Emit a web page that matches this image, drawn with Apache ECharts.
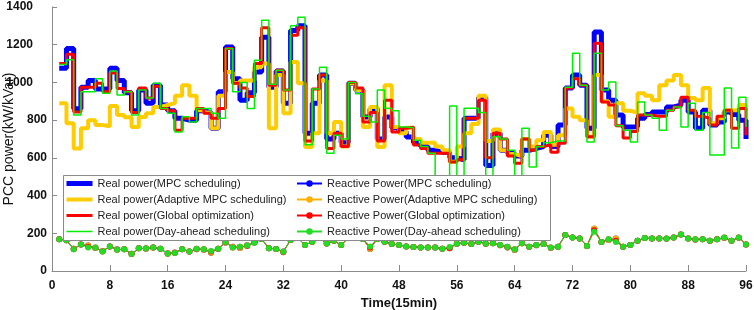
<!DOCTYPE html>
<html>
<head>
<meta charset="utf-8">
<script src="https://cdn.jsdelivr.net/npm/echarts@6/dist/echarts.min.js"></script>
<style>
    html, body { margin: 0; padding: 0; background: #fff; }
    #chart { width: 754px; height: 310px; }
</style>
</head>
<body>
<div id="chart"></div>
<script>
    // real power, kW, time steps 1..96
    var realMpc = [1075, 1180, 860, 975, 1010, 965, 965, 1075, 1010, 945, 850, 960, 890, 985, 880, 850,
        810, 800, 800, 850, 840, 757, 950, 1188, 1020, 906, 945, 1055, 1240, 975, 1060, 890,
        1275, 1300, 730, 890, 1040, 700, 730, 680, 995, 960, 817, 860, 700, 817, 760, 740,
        710, 680, 660, 640, 630, 630, 600, 590, 810, 810, 920, 560, 730, 640, 625, 610,
        640, 650, 660, 720, 660, 774, 970, 1040, 985, 757, 1267, 960, 906, 827, 763, 765,
        810, 830, 843, 843, 870, 880, 906, 843, 757, 853, 774, 790, 843, 830, 800, 700];
    var realAdaptive = [890, 784, 650, 757, 800, 774, 768, 875, 827, 815, 763, 817, 837, 870, 880, 890,
        930, 985, 930, 853, 840, 757, 930, 1055, 995, 1010, 1010, 1081, 1100, 757, 1040, 837,
        1108, 995, 657, 730, 1010, 730, 790, 660, 995, 960, 763, 870, 657, 985, 763, 730,
        760, 700, 680, 680, 660, 640, 580, 660, 730, 780, 930, 690, 750, 640, 620, 610,
        700, 660, 694, 737, 670, 720, 862, 818, 800, 712, 1040, 900, 818, 890, 850, 840,
        943, 930, 906, 985, 1010, 1040, 985, 917, 906, 970, 784, 810, 853, 853, 880, 853];
    var realGlobal = [1100, 1150, 843, 975, 975, 995, 950, 1050, 968, 950, 840, 970, 917, 980, 862, 850,
        747, 810, 810, 862, 837, 810, 862, 1180, 995, 970, 925, 1100, 1290, 985, 1065, 960,
        1250, 1290, 690, 965, 1040, 650, 730, 660, 1000, 970, 790, 840, 690, 905, 737, 757,
        763, 668, 650, 625, 625, 625, 578, 590, 810, 810, 906, 600, 730, 700, 610, 572,
        700, 640, 660, 670, 630, 678, 970, 1020, 985, 712, 1208, 896, 880, 770, 705, 740,
        827, 827, 820, 820, 853, 870, 922, 853, 820, 810, 774, 820, 853, 757, 862, 720];
    var realDayAhead = [1095, 1120, 827, 950, 950, 1020, 943, 1060, 933, 950, 827, 960, 917, 995, 862, 837,
        737, 818, 790, 862, 862, 837, 810, 1180, 950, 1000, 862, 1118, 1330, 990, 1065, 960,
        1300, 1346, 670, 965, 1080, 625, 720, 700, 1000, 940, 820, 790, 960, 863, 850, 763,
        760, 694, 660, 625, 490, 490, 875, 490, 863, 863, 840, 490, 712, 700, 640, 490,
        757, 551, 660, 680, 690, 690, 975, 1155, 985, 684, 1155, 960, 1002, 770, 747, 684,
        896, 827, 810, 747, 853, 870, 763, 890, 747, 840, 615, 615, 970, 652, 922, 763];

    // reactive power, kVar
    var reactMpc = [168, 163, 118, 141, 135, 122, 106, 130, 115, 115, 92, 120, 118, 124, 118, 94,
        98, 115, 103, 115, 113, 97, 118, 150, 128, 122, 136, 150, 170, 120, 117, 104,
        165, 175, 138, 155, 175, 146, 160, 138, 175, 175, 170, 117, 170, 155, 143, 138,
        130, 127, 125, 125, 125, 118, 120, 145, 150, 143, 155, 145, 147, 136, 124, 112,
        147, 129, 136, 143, 122, 129, 191, 178, 173, 133, 224, 154, 165, 172, 129, 138,
        161, 175, 173, 173, 171, 178, 194, 173, 166, 168, 161, 168, 175, 161, 176, 141];
    var reactAdaptive = [168, 163, 118, 141, 135, 122, 106, 130, 115, 115, 92, 120, 118, 124, 118, 94,
        98, 115, 103, 115, 113, 97, 118, 150, 128, 122, 136, 150, 170, 120, 117, 104,
        165, 175, 138, 155, 175, 146, 160, 138, 175, 175, 170, 117, 170, 155, 143, 138,
        130, 127, 125, 125, 125, 118, 120, 145, 150, 143, 155, 145, 147, 136, 124, 112,
        147, 129, 136, 143, 122, 129, 191, 178, 173, 133, 226, 154, 165, 173, 129, 138,
        161, 175, 173, 173, 171, 178, 194, 173, 166, 168, 161, 168, 175, 161, 176, 141];
    var reactGlobal = [168, 163, 115, 141, 128, 125, 104, 130, 113, 115, 90, 120, 120, 124, 118, 92,
        96, 115, 103, 118, 115, 104, 118, 154, 125, 128, 133, 152, 170, 120, 117, 100,
        165, 175, 138, 155, 175, 146, 160, 138, 175, 175, 170, 125, 170, 155, 143, 138,
        130, 127, 125, 125, 125, 118, 122, 145, 150, 143, 155, 145, 147, 138, 129, 115,
        147, 129, 138, 143, 124, 129, 191, 178, 173, 133, 216, 154, 168, 160, 129, 138,
        161, 175, 173, 173, 173, 178, 194, 173, 168, 168, 161, 168, 178, 161, 178, 141];
    var reactDayAhead = [168, 163, 115, 141, 125, 125, 104, 130, 113, 115, 90, 120, 120, 124, 118, 92,
        96, 115, 103, 118, 115, 106, 118, 154, 125, 128, 135, 150, 170, 120, 117, 102,
        165, 175, 138, 155, 175, 146, 160, 138, 175, 175, 170, 130, 170, 155, 143, 138,
        130, 127, 125, 125, 125, 118, 127, 145, 150, 143, 155, 145, 147, 138, 129, 115,
        147, 129, 138, 143, 124, 129, 191, 178, 173, 133, 208, 154, 168, 154, 129, 138,
        161, 175, 173, 173, 173, 178, 194, 173, 168, 168, 161, 168, 178, 161, 178, 141];

    var realNames = ['Real power(MPC scheduling)', 'Real power(Adaptive MPC scheduling)',
        'Real power(Global optimization)', 'Real power(Day-ahead scheduling)'];
    var reactNames = ['Reactive Power(MPC scheduling)', 'Reactive Power(Adaptive MPC scheduling)',
        'Reactive Power(Global optimization)', 'Reactive Power(Day-ahead scheduling)'];
    var colors = ['#0000ff', '#ffcc00', '#ff0000', '#00ee00'];
    var realWidths = [5, 4, 3, 1.5];
    var xTicks = [0, 8, 16, 24, 32, 40, 48, 56, 64, 72, 80, 88, 96];
    var yTicks = [0, 200, 400, 600, 800, 1000, 1200, 1400];

    var font = 'Liberation Sans';

    function pairs(arr) {
        return arr.map(function (v, i) { return [i + 1, v]; });
    }

    function realSeries(name, data, color, width) {
        return {
            name: name,
            type: 'line',
            step: 'end',
            symbol: 'none',
            data: pairs(data),
            lineStyle: { color: color, width: width },
            itemStyle: { color: color },
            emphasis: { disabled: true },
            animation: false
        };
    }

    function reactSeries(name, data, color) {
        return {
            name: name,
            type: 'line',
            symbol: 'circle',
            symbolSize: 6,
            data: pairs(data),
            lineStyle: { color: color, width: 1 },
            itemStyle: { color: color },
            emphasis: { disabled: true },
            animation: false
        };
    }

    var legendText = { fontSize: 11, fontFamily: font, color: '#222' };

    var option = {
        backgroundColor: '#fff',
        animation: false,
        grid: { left: 52, right: 8, top: 7, bottom: 39, containLabel: false, outerBoundsMode: 'none' },
        graphic: {
            elements: [{
                type: 'rect',
                left: 63,
                top: 175,
                z: 5,
                shape: { width: 487, height: 65 },
                style: { fill: '#fff', stroke: '#8a8a8a', lineWidth: 1 }
            }]
        },
        legend: [{
            data: realNames.map(function (n, i) {
                return { name: n, lineStyle: { width: realWidths[i] } };
            }),
            orient: 'vertical',
            left: 64,
            top: 178,
            itemWidth: 26,
            itemHeight: 8,
            itemGap: 5,
            padding: 0,
            z: 10,
            // hide the marker, keep only the line
            itemStyle: { opacity: 0 },
            textStyle: legendText
        }, {
            data: reactNames,
            orient: 'vertical',
            left: 296,
            top: 178,
            itemWidth: 25,
            itemHeight: 8,
            itemGap: 5,
            padding: 0,
            z: 10,
            textStyle: legendText
        }],
        xAxis: {
            type: 'value',
            min: xTicks[0],
            max: xTicks[xTicks.length - 1],
            interval: 8,
            name: 'Time(15min)',
            nameLocation: 'middle',
            nameGap: 24,
            nameTextStyle: { fontSize: 13, fontWeight: 'bold', fontFamily: font, color: '#111' },
            axisLine: { lineStyle: { color: '#8a8a8a' } },
            axisTick: { inside: true, length: 6, lineStyle: { color: '#8a8a8a' } },
            splitLine: { show: false },
            axisLabel: { fontSize: 12, fontWeight: 'bold', fontFamily: font, color: '#111', margin: 9 }
        },
        yAxis: {
            type: 'value',
            min: yTicks[0],
            max: yTicks[yTicks.length - 1],
            interval: 200,
            name: 'PCC power(kW/kVar)',
            nameLocation: 'middle',
            nameGap: 36,
            nameMoveOverlap: false,
            nameTextStyle: { fontSize: 14, fontFamily: font, color: '#111' },
            axisLine: { show: true, lineStyle: { color: '#8a8a8a' } },
            axisTick: { show: true, inside: true, length: 5, lineStyle: { color: '#8a8a8a' } },
            splitLine: { show: false },
            axisLabel: {
                fontSize: 12, fontWeight: 'bold', fontFamily: font, color: '#111', margin: 5,
                // the 4-digit labels sit further left in the original
                formatter: function (v) {
                    return v >= 1000 ? '{w|' + v + '}' : '{n|' + v + '}';
                },
                rich: {
                    w: { fontSize: 12, fontWeight: 'bold', fontFamily: font, color: '#111', padding: [0, 14, 0, 0] },
                    n: { fontSize: 12, fontWeight: 'bold', fontFamily: font, color: '#111' }
                }
            }
        },
        series: [
            realSeries(realNames[0], realMpc, colors[0], realWidths[0]),
            realSeries(realNames[1], realAdaptive, colors[1], realWidths[1]),
            realSeries(realNames[2], realGlobal, colors[2], realWidths[2]),
            realSeries(realNames[3], realDayAhead, colors[3], realWidths[3]),
            reactSeries(reactNames[0], reactMpc, colors[0]),
            reactSeries(reactNames[1], reactAdaptive, '#ffb000'),
            reactSeries(reactNames[2], reactGlobal, colors[2]),
            reactSeries(reactNames[3], reactDayAhead, '#22dd22')
        ]
    };

    var myChart = echarts.init(document.getElementById('chart'));
    myChart.setOption(option);
</script>
</body>
</html>
